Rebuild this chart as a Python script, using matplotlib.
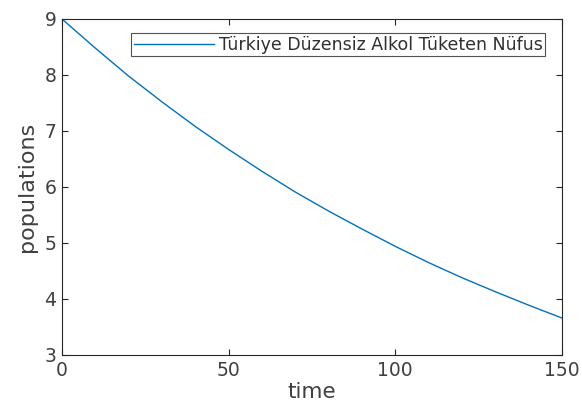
import matplotlib
matplotlib.use("Agg")
import matplotlib.pyplot as plt

# population readings over time
time = [0, 10, 20, 30, 40, 50, 60, 70, 80, 90, 100, 110, 120, 130, 140, 150]
populations = [9.00, 8.48, 7.98, 7.52, 7.08, 6.67, 6.28, 5.91, 5.57, 5.25,
               4.94, 4.65, 4.38, 4.13, 3.89, 3.66]
series_label = "Türkiye Düzensiz Alkol Tüketen Nüfus"

fig = plt.figure(figsize=(5.82, 4.05), dpi=100)
ax = fig.add_axes([0.1065, 0.1235, 0.859, 0.8296])

ax.plot(time, populations, color="#0072BD", lw=1.0, label=series_label)

ax.set_xlim(0, 150)
ax.set_ylim(3, 9)
ax.set_xticks([0, 50, 100, 150])
ax.set_yticks([3, 4, 5, 6, 7, 8, 9])
ax.tick_params(direction="in", top=True, right=True, length=4, width=0.8,
               colors="#262626", labelcolor="#404040", labelsize=13.5, pad=4)
for s in ax.spines.values():
    s.set_color("#262626")
    s.set_linewidth(0.8)

ax.set_xlabel("time", fontsize=15.5, color="#404040", labelpad=2)
ax.set_ylabel("populations", fontsize=16, color="#404040", labelpad=5)

leg = ax.legend(loc="upper right", bbox_to_anchor=(0.967, 0.958), fontsize=12.5,
                frameon=True, fancybox=False, edgecolor="#262626",
                handlelength=4.6, handletextpad=0.3, borderpad=0.15,
                borderaxespad=0)
leg.get_frame().set_linewidth(0.8)
for t in leg.get_texts():
    t.set_color("#303030")

fig.savefig("out.png", dpi=100)
